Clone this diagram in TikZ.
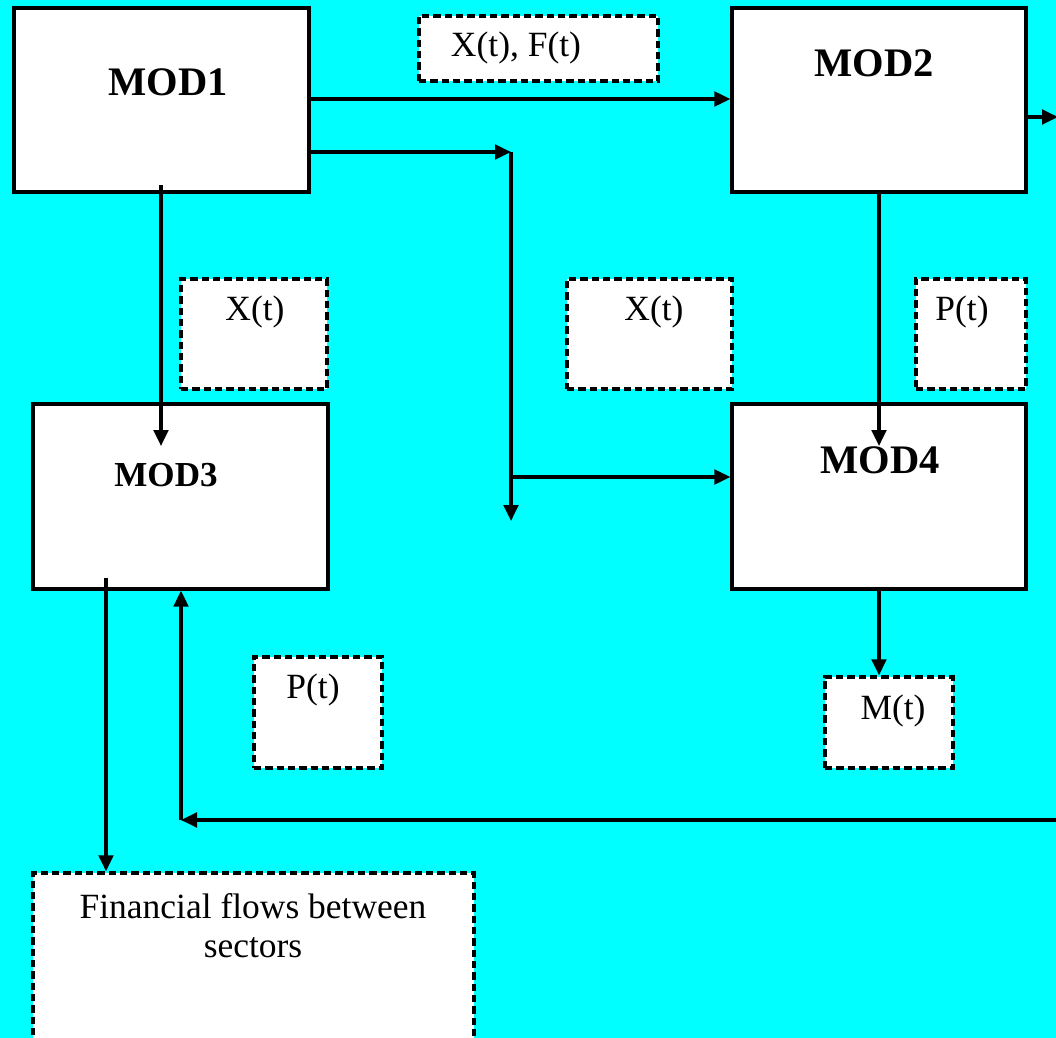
\documentclass[tikz,border=0pt]{standalone}
\usepackage{fontspec}
\setmainfont{Liberation Serif}
\usetikzlibrary{arrows.meta,fit}
\definecolor{bg}{RGB}{0,255,255}
\tikzset{
  solidbox/.style={draw=black, fill=white, line width=2.5pt, inner sep=0pt},
  dashbox/.style={draw=black, fill=white, line width=2.6pt, dash pattern=on 5.5pt off 3pt, inner sep=0pt},
  modtxt/.style={font=\fontsize{30.4}{34}\selectfont\bfseries, inner sep=0pt},
  modtxtsmall/.style={font=\fontsize{26.3}{30}\selectfont\bfseries, inner sep=0pt},
  lbl/.style={font=\fontsize{26.6}{30}\selectfont, inner sep=0pt, align=center},
  arr/.style={line width=2.4pt, -{Triangle[length=12pt,width=11pt]}}
}
\begin{document}
\begin{tikzpicture}[x=0.75pt,y=-0.75pt]
\useasboundingbox (0,0) rectangle (1056,1038);
\clip (0,0) rectangle (1056,1038);
\fill[bg] (0,0) rectangle (1056,1038);

% solid boxes
\node[solidbox, fit={(14,8) (309,192)}] (m1) {};
\node[solidbox, fit={(732,8) (1026,192)}] (m2) {};
\node[solidbox, fit={(33,404) (328,589)}] (m3) {};
\node[solidbox, fit={(732,404) (1026,589)}] (m4) {};
\node[modtxt] (m1t) at (168,82) {MOD1};
\node[modtxt] (m2t) at (874,63) {MOD2};
\node[modtxtsmall] (m3t) at (166,475) {MOD3};
\node[modtxt] (m4t) at (880,460) {MOD4};

% dashed boxes
\node[dashbox, fit={(419,16) (658,81)}] (d1) {};
\node[dashbox, fit={(181,279) (327,389)}] (d2) {};
\node[dashbox, fit={(567,279) (732,389)}] (d3) {};
\node[dashbox, fit={(916,279) (1026,389)}] (d4) {};
\node[dashbox, fit={(254,657) (382,768)}] (d5) {};
\node[dashbox, fit={(825,677) (953,768)}] (d6) {};
\node[dashbox, fit={(33,873) (474,1060)}] (d7) {};
\node[lbl] (d1t) at (516,48) {X(t), F(t)};
\node[lbl] (d2t) at (255,312) {X(t)};
\node[lbl] (d3t) at (654,312) {X(t)};
\node[lbl] (d4t) at (962,312) {P(t)};
\node[lbl] (d5t) at (313,690) {P(t)};
\node[lbl] (d6t) at (893,711) {M(t)};
\node[lbl] (d7t) at (253,926) {Financial flows between\\[-0.5pt]sectors};

% connectors
\coordinate (c1) at (511,152);
\coordinate (c2) at (511,521);
\coordinate (c3) at (511,477);
\coordinate (c4) at (1058,117);
\coordinate (c5) at (1058,820);
\coordinate (c6) at (181,820);
\coordinate (a1) at (161,185);
\coordinate (a2) at (879,190);
\coordinate (a3) at (879,587);
\coordinate (a4) at (106,578);

\draw[arr] (m1.east |- 0,99) -- (m2.west |- 0,99);
\draw[arr] (m1.east |- c1) -- (c1);
\draw[arr] (c1) -- (c2);
\draw[arr] (c3) -- (m4.west |- c3);
\draw[arr] (m2.east |- c4) -- (c4);
\draw[arr] (a1) -- (161,446);
\draw[arr] (a2) -- (879,446);
\draw[arr] (a3) -- (a3 |- d6.north);
\draw[arr] (a4) -- (a4 |- d7.north);
\draw[arr] (c5) -- (c6);
\draw[arr] (c6) -- (c6 |- m3.south);
\end{tikzpicture}
\end{document}
